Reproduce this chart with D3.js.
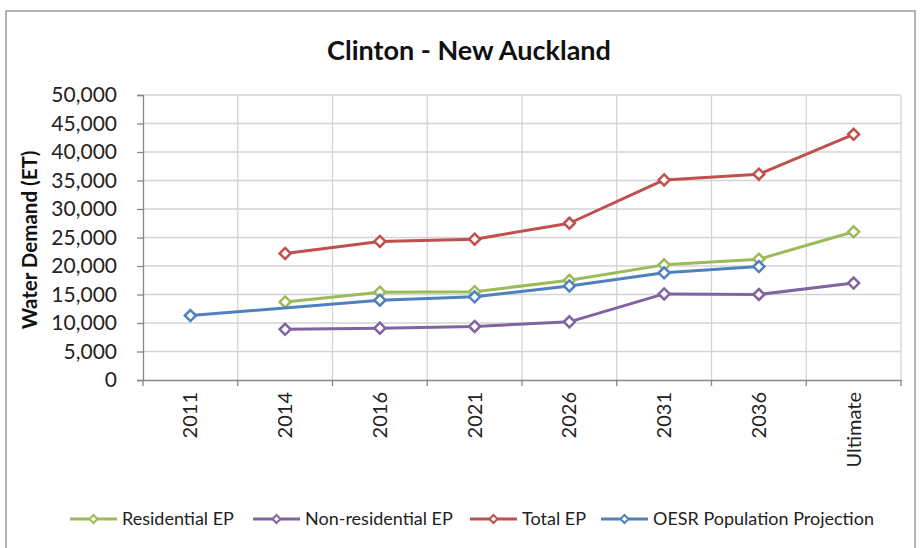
<!DOCTYPE html>
<html><head><meta charset="utf-8">
<script src="https://cdn.jsdelivr.net/npm/d3@7"></script>
<style>html,body{margin:0;padding:0;background:#fff;}svg{display:block;}</style>
</head><body>
<script>
const categories = ["2011","2014","2016","2021","2026","2031","2036","Ultimate"];
const residentialEP = [null, 13700, 15400, 15500, 17500, 20200, 21200, 26000];
const nonResidentialEP = [null, 8900, 9100, 9400, 10200, 15100, 15000, 17000];
const totalEP = [null, 22200, 24300, 24700, 27500, 35100, 36100, 43100];
const oesrProjection = [11300, null, 14000, 14600, 16500, 18800, 19900, null];
const yTicks = [0,5000,10000,15000,20000,25000,30000,35000,40000,45000,50000];
const seriesNames = ["Residential EP","Non-residential EP","Total EP","OESR Population Projection"];
const seriesColors = ["#9BBB59","#8064A2","#C0504D","#4F81BD"];
const seriesData = [residentialEP, nonResidentialEP, totalEP, oesrProjection];

const W = 921, H = 548;
const font = "Lato, 'Open Sans', sans-serif";
const svg = d3.select("body").append("svg").attr("width", W).attr("height", H);
svg.append("rect").attr("x",6).attr("y",11).attr("width",909).attr("height",540)
  .attr("fill","#fff").attr("stroke","#9a9a9a").attr("stroke-width",1.5);

const x = d3.scaleBand().domain(categories).range([143, 901]).padding(0);
const y = d3.scaleLinear().domain([0, 50000]).range([380, 95]);
const cx = c => x(c) + x.bandwidth()/2;

// gridlines
const grid = svg.append("g");
grid.selectAll("line.h").data(yTicks.slice(1)).join("line")
  .attr("x1", x.range()[0]).attr("x2", x.range()[1])
  .attr("y1", d => y(d)).attr("y2", d => y(d))
  .attr("stroke","#d4d4d4").attr("stroke-width",1.3);
const edges = categories.map(c => x(c)).concat([x.range()[1]]);
grid.selectAll("line.v").data(edges.slice(1)).join("line")
  .attr("x1", d => d).attr("x2", d => d)
  .attr("y1", y(50000)).attr("y2", y(0))
  .attr("stroke","#d4d4d4").attr("stroke-width",1.3);

// y axis
const yAxis = svg.append("g").attr("transform", `translate(${x.range()[0]},0)`)
  .call(d3.axisLeft(y).tickValues(yTicks).tickSize(6).tickPadding(20).tickFormat(d3.format(",")));
yAxis.select(".domain").attr("stroke","#888").attr("stroke-width",1.3);
yAxis.selectAll(".tick line").attr("stroke","#888").attr("stroke-width",1.3);
yAxis.selectAll("text").attr("font-family", font).attr("font-size", 21).attr("fill","#222");

// x axis
const xAxis = svg.append("g").attr("transform", `translate(0,${y(0)})`)
  .call(d3.axisBottom(x).tickSize(0).tickPadding(0));
xAxis.select(".domain").attr("stroke","#888").attr("stroke-width",1.3);
xAxis.selectAll(".tick text")
  .attr("font-family", font).attr("font-size", 20).attr("fill","#222")
  .attr("transform","rotate(-90)").attr("text-anchor","end")
  .attr("x", -12).attr("y", 0).attr("dy","0.35em");
svg.append("g").selectAll("line").data(edges).join("line")
  .attr("x1", d => d).attr("x2", d => d).attr("y1", y(0)).attr("y2", y(0)+6)
  .attr("stroke","#888").attr("stroke-width",1.3);

// y title
svg.append("text").attr("transform", "translate(37,240) rotate(-90)")
  .attr("text-anchor","middle").attr("font-family", font).attr("font-weight","bold")
  .attr("font-size", 20.5).attr("fill","#111").text("Water Demand (ET)");

// title
svg.append("text").attr("x", 469).attr("y", 60).attr("text-anchor","middle")
  .attr("font-family", font).attr("font-weight","bold").attr("font-size", 27)
  .attr("fill","#111").text("Clinton - New Auckland");

const diamond = (s) => `M0,${-s}L${s},0L0,${s}L${-s},0Z`;

// series
seriesData.forEach((vals, i) => {
  const pts = categories.map((c, j) => ({c, v: vals[j]})).filter(d => d.v != null);
  const line = d3.line().x(d => cx(d.c)).y(d => y(d.v));
  svg.append("path").datum(pts).attr("d", line).attr("fill","none")
    .attr("stroke", seriesColors[i]).attr("stroke-width", 3).attr("stroke-linejoin","round");
  svg.append("g").selectAll("path").data(pts).join("path")
    .attr("transform", d => `translate(${cx(d.c)},${y(d.v)})`)
    .attr("d", diamond(5.5)).attr("fill","#fff")
    .attr("stroke", seriesColors[i]).attr("stroke-width", 2.5);
});

// legend
const legX = [70, 253, 470, 601];
const leg = svg.append("g");
seriesNames.forEach((n, i) => {
  const g = leg.append("g").attr("transform", `translate(${legX[i]},519)`);
  g.append("line").attr("x1",0).attr("x2",47).attr("y1",0).attr("y2",0)
    .attr("stroke", seriesColors[i]).attr("stroke-width",3);
  g.append("path").attr("transform","translate(23.5,0)").attr("d", diamond(4))
    .attr("fill","#fff").attr("stroke", seriesColors[i]).attr("stroke-width",2);
  g.append("text").attr("x", 52).attr("y", 0).attr("dy","0.35em")
    .attr("font-family", font).attr("font-size", 18).attr("fill","#222").text(n);
});
</script>
</body></html>
